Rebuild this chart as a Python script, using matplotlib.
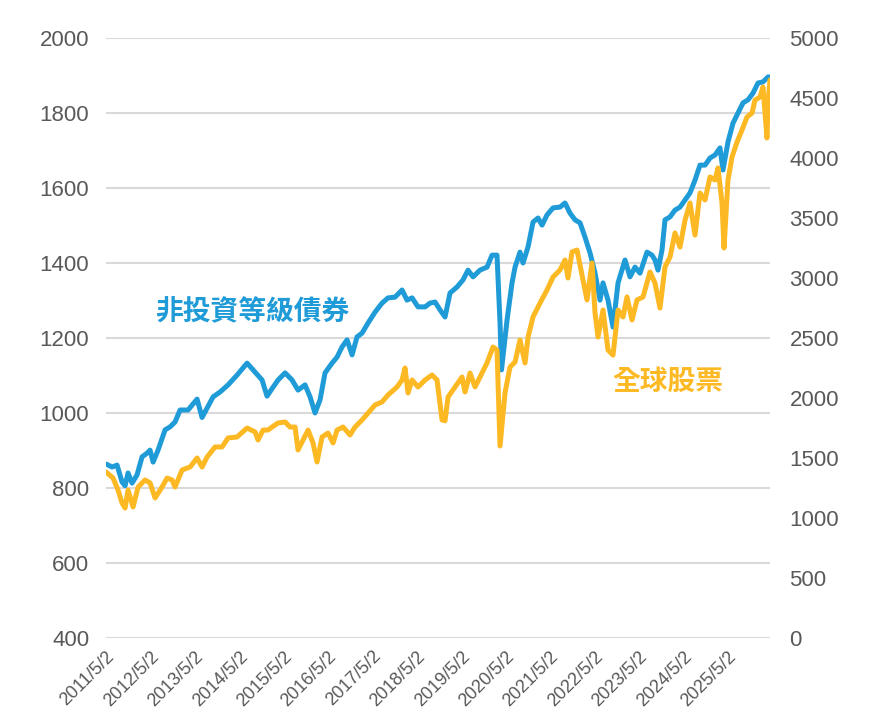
import matplotlib
matplotlib.use("Agg")
import matplotlib.pyplot as plt

# ---- data; dates as decimal years ----
bond_years = [2011.333, 2011.468, 2011.581, 2011.693, 2011.761, 2011.828, 2011.919, 2012.031,
              2012.144, 2012.256, 2012.324, 2012.392, 2012.504, 2012.662, 2012.774, 2012.887,
              2013.000, 2013.180, 2013.383, 2013.495, 2013.608, 2013.743, 2013.901, 2014.081,
              2014.283, 2014.509, 2014.689, 2014.847, 2014.959, 2015.072, 2015.207, 2015.365,
              2015.522, 2015.657, 2015.815, 2015.928, 2016.040, 2016.153, 2016.265, 2016.423,
              2016.536, 2016.648, 2016.761, 2016.874, 2016.986, 2017.099, 2017.234, 2017.392,
              2017.549, 2017.684, 2017.842, 2018.000, 2018.112, 2018.225, 2018.360, 2018.518,
              2018.630, 2018.743, 2018.856, 2018.968, 2019.081, 2019.238, 2019.374, 2019.486,
              2019.599, 2019.756, 2019.914, 2020.027, 2020.139, 2020.207, 2020.240, 2020.365,
              2020.477, 2020.545, 2020.657, 2020.725, 2020.838, 2020.950, 2021.063, 2021.153,
              2021.265, 2021.401, 2021.558, 2021.671, 2021.783, 2021.896, 2022.009, 2022.121,
              2022.234, 2022.347, 2022.459, 2022.527, 2022.639, 2022.752, 2022.865, 2023.022,
              2023.135, 2023.247, 2023.360, 2023.518, 2023.630, 2023.698, 2023.765, 2023.856,
              2023.923, 2024.036, 2024.148, 2024.261, 2024.374, 2024.486, 2024.599, 2024.711,
              2024.824, 2024.937, 2025.049, 2025.162, 2025.229, 2025.342, 2025.455, 2025.567,
              2025.680, 2025.792, 2025.905, 2026.018, 2026.130, 2026.243, 2026.288]
bond_values = [864, 856, 861, 816, 806, 840, 813, 835,
               883, 893, 901, 869, 901, 955, 963, 976,
               1008, 1008, 1037, 988, 1013, 1043, 1056, 1075,
               1101, 1133, 1109, 1088, 1045, 1065, 1088, 1107,
               1088, 1061, 1075, 1043, 1000, 1035, 1107, 1133,
               1149, 1176, 1195, 1155, 1203, 1213, 1240, 1269,
               1293, 1307, 1309, 1328, 1301, 1307, 1283, 1283,
               1293, 1296, 1275, 1256, 1320, 1336, 1355, 1381,
               1363, 1381, 1389, 1421, 1421, 1240, 1115, 1248,
               1347, 1389, 1429, 1400, 1443, 1509, 1520, 1501,
               1528, 1547, 1549, 1560, 1533, 1515, 1507, 1469,
               1427, 1373, 1301, 1347, 1301, 1229, 1347, 1408,
               1363, 1389, 1373, 1429, 1421, 1408, 1381, 1435,
               1515, 1523, 1541, 1549, 1568, 1587, 1621, 1661,
               1661, 1680, 1688, 1707, 1648, 1723, 1773, 1800,
               1827, 1835, 1853, 1880, 1883, 1896, 1896]

stock_years = [2011.333, 2011.491, 2011.603, 2011.693, 2011.761, 2011.828, 2011.941, 2012.054,
               2012.211, 2012.324, 2012.437, 2012.594, 2012.707, 2012.819, 2012.887, 2013.045,
               2013.225, 2013.383, 2013.495, 2013.608, 2013.788, 2013.946, 2014.081, 2014.283,
               2014.509, 2014.689, 2014.756, 2014.869, 2014.982, 2015.072, 2015.207, 2015.365,
               2015.477, 2015.590, 2015.657, 2015.770, 2015.883, 2015.995, 2016.085, 2016.198,
               2016.333, 2016.446, 2016.536, 2016.671, 2016.828, 2016.941, 2017.099, 2017.234,
               2017.392, 2017.549, 2017.684, 2017.887, 2018.000, 2018.067, 2018.135, 2018.225,
               2018.360, 2018.518, 2018.675, 2018.788, 2018.901, 2018.968, 2019.036, 2019.193,
               2019.351, 2019.419, 2019.531, 2019.644, 2019.756, 2019.914, 2020.049, 2020.139,
               2020.207, 2020.319, 2020.432, 2020.545, 2020.657, 2020.770, 2020.838, 2020.950,
               2021.108, 2021.265, 2021.401, 2021.558, 2021.671, 2021.738, 2021.828, 2021.941,
               2022.009, 2022.076, 2022.166, 2022.279, 2022.347, 2022.414, 2022.527, 2022.639,
               2022.752, 2022.865, 2022.977, 2023.067, 2023.180, 2023.292, 2023.428, 2023.585,
               2023.698, 2023.810, 2023.923, 2024.036, 2024.148, 2024.261, 2024.374, 2024.486,
               2024.599, 2024.711, 2024.824, 2024.937, 2025.049, 2025.117, 2025.207, 2025.252,
               2025.342, 2025.432, 2025.545, 2025.657, 2025.770, 2025.883, 2025.950, 2026.063,
               2026.130, 2026.175, 2026.220, 2026.243, 2026.288]
stock_values = [1383, 1333, 1233, 1125, 1083, 1233, 1092, 1258,
                1317, 1292, 1167, 1258, 1333, 1317, 1258, 1400,
                1425, 1500, 1425, 1508, 1592, 1592, 1667, 1675,
                1750, 1717, 1650, 1733, 1733, 1758, 1792, 1800,
                1758, 1758, 1567, 1650, 1733, 1625, 1467, 1675,
                1708, 1625, 1733, 1758, 1692, 1758, 1817, 1875,
                1942, 1967, 2025, 2092, 2150, 2250, 2042, 2150,
                2092, 2150, 2192, 2150, 1817, 1810, 2008, 2092,
                2175, 2050, 2208, 2092, 2175, 2292, 2425, 2400,
                1600, 2042, 2258, 2300, 2483, 2292, 2508, 2675,
                2792, 2900, 3008, 3067, 3150, 3000, 3217, 3233,
                3108, 2983, 2817, 3125, 2708, 2508, 2733, 2400,
                2358, 2733, 2675, 2842, 2650, 2817, 2842, 3050,
                2958, 2750, 3092, 3175, 3375, 3258, 3483, 3625,
                3358, 3708, 3650, 3842, 3817, 3917, 3625, 3250,
                3817, 4008, 4133, 4233, 4342, 4375, 4483, 4508,
                4592, 4375, 4167, 4458, 4650]

tick_labels = ["2011/5/2", "2012/5/2", "2013/5/2", "2014/5/2", "2015/5/2", "2016/5/2", "2017/5/2",
               "2018/5/2", "2019/5/2", "2020/5/2", "2021/5/2", "2022/5/2", "2023/5/2", "2024/5/2",
               "2025/5/2"]
left_ticks = [400, 600, 800, 1000, 1200, 1400, 1600, 1800, 2000]
right_ticks = [0, 500, 1000, 1500, 2000, 2500, 3000, 3500, 4000, 4500, 5000]
bond_label = "非投資等級債券"
stock_label = "全球股票"

BLUE = "#1F9BD7"
YELLOW = "#FDB924"
GRAY = "#595959"

plt.rcParams['font.family'] = ['Liberation Sans', 'DejaVu Sans']

fig = plt.figure(figsize=(8.7, 7.22), dpi=100)
ax = fig.add_axes([106/870, 1-638/722, (770-106)/870, 600/722])
ax2 = ax.twinx()

ax.plot(bond_years, bond_values, color=BLUE, lw=3.6, solid_joinstyle='round',
        solid_capstyle='round', zorder=3)
ax2.plot(stock_years, stock_values, color=YELLOW, lw=3.6, solid_joinstyle='round',
         solid_capstyle='round', zorder=3)

# tick positions: 2 May of each year as decimal year
tick_pos = [int(t.split("/")[0]) + 121/365 for t in tick_labels]

ax.set_xlim(bond_years[0], bond_years[-1])
ax.set_ylim(400, 2000)
ax2.set_ylim(0, 5000)
ax.set_yticks(left_ticks)
ax2.set_yticks(right_ticks)
ax.grid(axis='y', color='#D9D9D9', lw=1.5)
ax.set_axisbelow(True)

for a in (ax, ax2):
    for s in a.spines.values():
        s.set_visible(False)
    a.tick_params(length=0, labelsize=16, labelcolor=GRAY)

ax.tick_params(axis='y', pad=12)
ax2.tick_params(axis='y', pad=14)
ax.set_xticks(tick_pos)
ax.set_xticklabels(tick_labels, rotation=45, ha='right', rotation_mode='anchor',
                   fontsize=13, color=GRAY)
ax.tick_params(axis='x', pad=7)

cjk = ['Noto Sans CJK TC', 'DejaVu Sans']
fig.text(155/870, 1-312/722, bond_label, color=BLUE, fontsize=20, family=cjk,
         fontweight='bold', ha='left', va='center')
fig.text(612/870, 1-382/722, stock_label, color=YELLOW, fontsize=20, family=cjk,
         fontweight='bold', ha='left', va='center')

fig.savefig("out.png", dpi=100, facecolor='white')
